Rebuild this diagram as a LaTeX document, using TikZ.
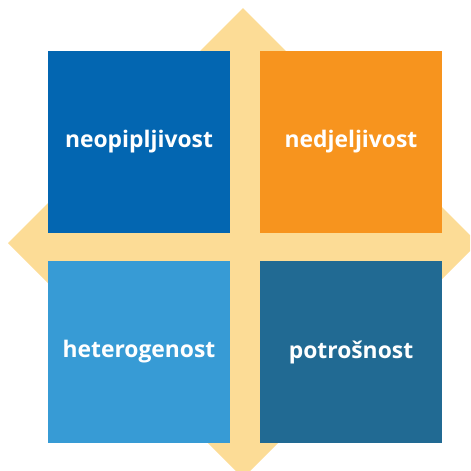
\documentclass[tikz,border=0pt]{standalone}
\usepackage{fontspec}
\setmainfont{Open Sans}
\definecolor{cream}{HTML}{FCDC96}
\definecolor{deepblue}{HTML}{0366B1}
\definecolor{amber}{HTML}{F7941E}
\definecolor{skyblue}{HTML}{379BD5}
\definecolor{steelblue}{HTML}{216A93}
\tikzset{
	quad/.style={minimum width=5.46cm, minimum height=5.46cm, inner sep=0pt, outer sep=0pt,
		text=white, font=\fontsize{19.5}{22}\selectfont\bfseries}
}
\begin{document}
\begin{tikzpicture}[x=0.03cm, y=-0.03cm]
		\useasboundingbox (0,0) rectangle (470,471);
		\clip (0,0) rectangle (470,471);
		% background diamond
		\fill[cream] (243,8) -- (478,243) -- (243,478) -- (8,243) -- cycle;
		\node[quad, fill=deepblue] (tl) at (139,142) {neopipljivost};
		\node[quad, fill=amber] (tr) at (351,142) {nedjeljivost};
		\node[quad, fill=skyblue] (bl) at (139,352) {heterogenost};
		\node[quad, fill=steelblue] (br) at (351,352) {potrošnost};
	\end{tikzpicture}
\end{document}
